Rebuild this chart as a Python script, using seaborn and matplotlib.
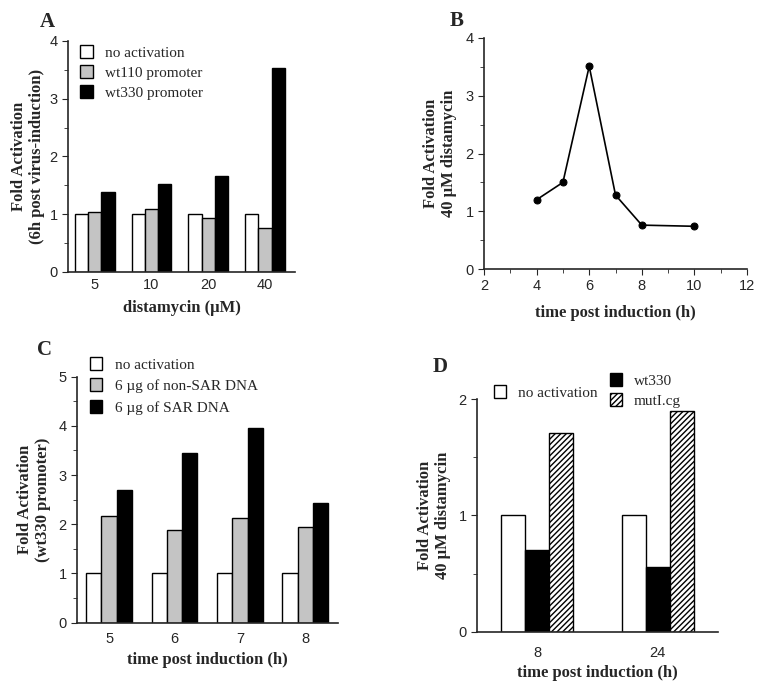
import matplotlib
matplotlib.use("Agg")
import matplotlib.pyplot as plt
from matplotlib.ticker import AutoMinorLocator, MultipleLocator
import numpy as np
import pandas as pd
import seaborn as sns

# panel A: fold activation vs distamycin dose
dose_labels = ["5", "10", "20", "40"]
a_series = ["no activation", "wt110 promoter", "wt330 promoter"]
a_none = [1.0, 1.0, 1.0, 1.0]
a_wt110 = [1.04, 1.09, 0.93, 0.76]
a_wt330 = [1.38, 1.52, 1.67, 3.53]

# panel B: time course at 40 uM distamycin
b_time = [4, 5, 6, 7, 8, 10]
b_fold = [1.2, 1.5, 3.51, 1.28, 0.76, 0.74]

# panel C: SAR DNA competition
c_time = ["5", "6", "7", "8"]
c_series = ["no activation", "6 µg of non-SAR DNA", "6 µg of SAR DNA"]
c_none = [1.0, 1.0, 1.0, 1.0]
c_nonsar = [2.17, 1.89, 2.13, 1.94]
c_sar = [2.69, 3.45, 3.95, 2.44]

# panel D: wt330 vs mutI.cg
d_time = ["8", "24"]
d_series = ["no activation", "wt330", "mutI.cg"]
d_none = [1.0, 1.0]
d_wt330 = [0.70, 0.56]
d_mut = [1.71, 1.90]

sns.set_style("ticks")
plt.rcParams["font.family"] = ["Liberation Sans", "DejaVu Sans"]
plt.rcParams["xtick.major.size"] = 4
plt.rcParams["ytick.major.size"] = 4
plt.rcParams["ytick.minor.size"] = 3
plt.rcParams["xtick.minor.size"] = 3
plt.rcParams["axes.linewidth"] = 1.2

SERIF = ["Liberation Serif", "DejaVu Serif"]
GRAY = "#c4c4c4"
lab_font = dict(family=SERIF, fontweight="bold", fontsize=12)
leg_font = dict(family=SERIF, size=11)


def long_df(cats, names, cols):
    rows = []
    for name, vals in zip(names, cols):
        for c, v in zip(cats, vals):
            rows.append({"cat": c, "series": name, "value": v})
    return pd.DataFrame(rows)


def style_bars(ax, hatch_last=False):
    for i, cont in enumerate(ax.containers):
        for p in cont.patches:
            p.set_edgecolor("black")
            p.set_linewidth(1.0)
            if hatch_last and i == 2:
                p.set_facecolor("white")
                p.set_hatch("//////")


def finish(ax, xpad=4):
    sns.despine(ax=ax)
    ax.tick_params(axis="both", labelsize=10.5, direction="out")
    ax.tick_params(axis="x", length=0, pad=xpad)


fig = plt.figure(figsize=(7.65, 6.83), dpi=100)
axA = fig.add_axes([0.0889, 0.6018, 0.2967, 0.3382])
axB = fig.add_axes([0.6327, 0.6061, 0.3438, 0.3383])
axC = fig.add_axes([0.1007, 0.0883, 0.3411, 0.3602])
axD = fig.add_axes([0.6235, 0.0747, 0.3151, 0.3411])

# --- A ---
dfA = long_df(dose_labels, a_series, [a_none, a_wt110, a_wt330])
sns.barplot(data=dfA, x="cat", y="value", hue="series", ax=axA, width=0.70, gap=0,
            palette=dict(zip(a_series, ["white", GRAY, "black"])), legend=False)
style_bars(axA)
axA.set_ylim(0, 4)
axA.set_xlim(-0.47, 3.53)
axA.yaxis.set_major_locator(MultipleLocator(1))
axA.yaxis.set_minor_locator(AutoMinorLocator(2))
axA.set_xlabel("distamycin (µM)", labelpad=6, **lab_font)
axA.set_ylabel("Fold Activation\n(6h post virus-induction)", labelpad=3, **lab_font)
axA.legend([c.patches[0] for c in axA.containers], a_series, loc="upper left",
           bbox_to_anchor=(0.055, 0.982), frameon=False, prop=leg_font,
           handlelength=0.8, handleheight=0.9, handletextpad=0.8, labelspacing=0.35,
           borderpad=0, borderaxespad=0)
finish(axA)

# --- B ---
sns.lineplot(x=b_time, y=b_fold, ax=axB, color="black", marker="o", markersize=5,
             linewidth=1.2, markeredgecolor="black")
axB.set_xlim(2, 12)
axB.set_ylim(0, 4)
axB.xaxis.set_major_locator(MultipleLocator(2))
axB.xaxis.set_minor_locator(AutoMinorLocator(2))
axB.yaxis.set_major_locator(MultipleLocator(1))
axB.yaxis.set_minor_locator(AutoMinorLocator(2))
axB.set_xlabel("time post induction (h)", labelpad=8, **lab_font)
axB.set_ylabel("Fold Activation\n40 µM distamycin", labelpad=6, **lab_font)
sns.despine(ax=axB)
axB.tick_params(axis="both", labelsize=10.5, direction="out")

# --- C ---
dfC = long_df(c_time, c_series, [c_none, c_nonsar, c_sar])
sns.barplot(data=dfC, x="cat", y="value", hue="series", ax=axC, width=0.70, gap=0,
            palette=dict(zip(c_series, ["white", GRAY, "black"])), legend=False)
style_bars(axC)
axC.set_ylim(0, 5)
axC.set_xlim(-0.49, 3.5)
axC.yaxis.set_major_locator(MultipleLocator(1))
axC.yaxis.set_minor_locator(AutoMinorLocator(2))
axC.set_xlabel("time post induction (h)", labelpad=4, **lab_font)
axC.set_ylabel("Fold Activation\n(wt330 promoter)", labelpad=5, **lab_font)
axC.legend([c.patches[0] for c in axC.containers], c_series, loc="upper left",
           bbox_to_anchor=(0.05, 1.08), frameon=False, prop=leg_font,
           handlelength=0.8, handleheight=0.9, handletextpad=0.8, labelspacing=0.45,
           borderpad=0, borderaxespad=0)
finish(axC, xpad=7)

# --- D ---
dfD = long_df(d_time, d_series, [d_none, d_wt330, d_mut])
sns.barplot(data=dfD, x="cat", y="value", hue="series", ax=axD, width=0.6, gap=0,
            palette=dict(zip(d_series, ["white", "black", "white"])), legend=False)
style_bars(axD, hatch_last=True)
axD.set_ylim(0, 2)
axD.set_xlim(-0.5, 1.5)
axD.yaxis.set_major_locator(MultipleLocator(1))
axD.yaxis.set_minor_locator(AutoMinorLocator(2))
axD.set_xlabel("time post induction (h)", labelpad=4, **lab_font)
axD.set_ylabel("Fold Activation\n40 µM distamycin", labelpad=5, **lab_font)
handlesD = [c.patches[0] for c in axD.containers]
legD1 = axD.legend(handlesD[:1], d_series[:1], loc="upper left",
                   bbox_to_anchor=(0.07, 1.06), frameon=False, prop=leg_font,
                   handlelength=0.8, handleheight=0.9, handletextpad=0.8,
                   borderpad=0, borderaxespad=0)
axD.add_artist(legD1)
axD.legend(handlesD[1:], d_series[1:], loc="upper left",
           bbox_to_anchor=(0.55, 1.11), frameon=False, prop=leg_font,
           handlelength=0.8, handleheight=0.9, handletextpad=0.8, labelspacing=0.35,
           borderpad=0, borderaxespad=0)
finish(axD, xpad=10)

# panel letters
for x, y, s in [(0.052, 0.96, "A"), (0.588, 0.962, "B"), (0.048, 0.48, "C"), (0.566, 0.455, "D")]:
    fig.text(x, y, s, family=SERIF, fontweight="bold", fontsize=15)

fig.savefig("out.png", dpi=100)
